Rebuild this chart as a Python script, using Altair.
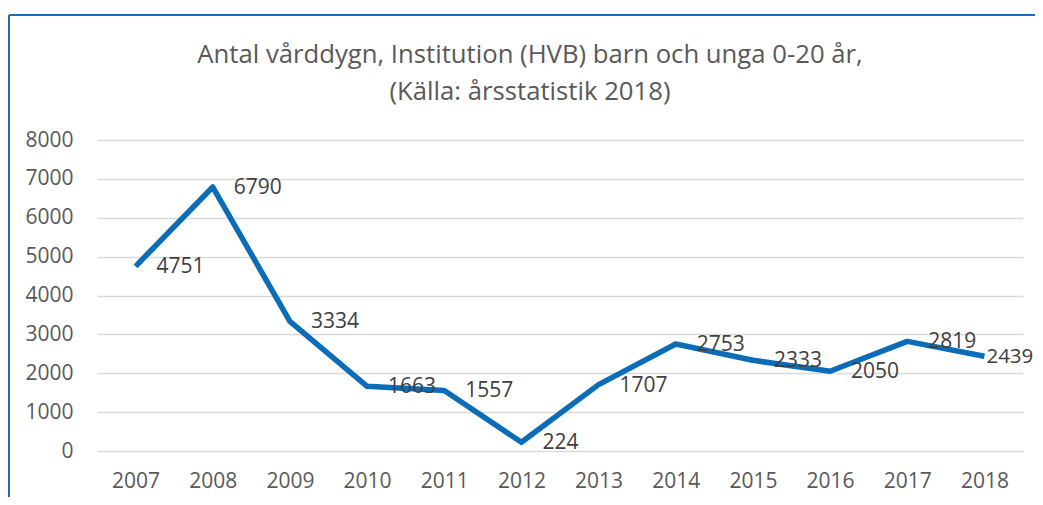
import altair as alt
import pandas as pd

years = ["2007", "2008", "2009", "2010", "2011", "2012", "2013", "2014", "2015", "2016", "2017", "2018"]
values = [4751, 6790, 3334, 1663, 1557, 224, 1707, 2753, 2333, 2050, 2819, 2439]
title_lines = ["Antal vårddygn, Institution (HVB) barn och unga 0-20 år,", "(Källa: årsstatistik 2018)"]

df = pd.DataFrame({"year": years, "value": values})
FONT = "Open Sans"

base = alt.Chart(df).encode(
    x=alt.X("year:N", sort=years, title=None,
            scale=alt.Scale(paddingInner=0, paddingOuter=0.5),
            axis=alt.Axis(labelAngle=0, domain=False, ticks=False, labelPadding=19,
                          labelFontSize=21, labelColor="#595959", labelFont=FONT)),
    y=alt.Y("value:Q", title=None,
            scale=alt.Scale(domain=[0, 8000]),
            axis=alt.Axis(values=[0, 1000, 2000, 3000, 4000, 5000, 6000, 7000, 8000],
                          format="d", domain=False, ticks=False, labelPadding=24,
                          labelFontSize=21, labelColor="#595959", labelFont=FONT,
                          gridColor="#d9d9d9", gridWidth=1.5)),
)

line = base.mark_line(color="#0b6cb8", strokeWidth=5.5, strokeJoin="round")
labels = base.mark_text(align="left", baseline="middle", dx=21, dy=1,
                        fontSize=21, font=FONT, color="#404040").encode(
    text="value:Q").transform_filter(alt.datum.year != years[-1])
last_label = base.mark_text(align="left", baseline="middle", dx=2, dy=1,
                            fontSize=20.5, font=FONT, color="#404040").encode(
    text="value:Q").transform_filter(alt.datum.year == years[-1])

tdf = pd.DataFrame({"t": title_lines, "i": [0, 1]})
title1 = alt.Chart(tdf.iloc[[0]]).mark_text(
    align="center", baseline="middle", fontSize=25.7, font=FONT, color="#595959"
).encode(text="t:N", x=alt.value(433), y=alt.value(-85))
title2 = alt.Chart(tdf.iloc[[1]]).mark_text(
    align="center", baseline="middle", fontSize=25.7, font=FONT, color="#595959"
).encode(text="t:N", x=alt.value(433), y=alt.value(-48))

frame_left = alt.Chart(df).mark_rule(color="#1f6db5", strokeWidth=2).encode(
    x=alt.value(-88), y=alt.value(-125), y2=alt.value(400))
frame_top = alt.Chart(df).mark_rule(color="#1f6db5", strokeWidth=2).encode(
    x=alt.value(-88), x2=alt.value(1000), y=alt.value(-125))

chart = alt.layer(frame_left, frame_top, title1, title2, line, labels, last_label).properties(
    width=926, height=311,
    padding={"left": 89, "top": 132, "right": 12, "bottom": 46},
    autosize=alt.AutoSizeParams(type="none"),
).configure_view(stroke=None)

chart.save("out.html", embed_options={"renderer": "svg", "actions": False})
